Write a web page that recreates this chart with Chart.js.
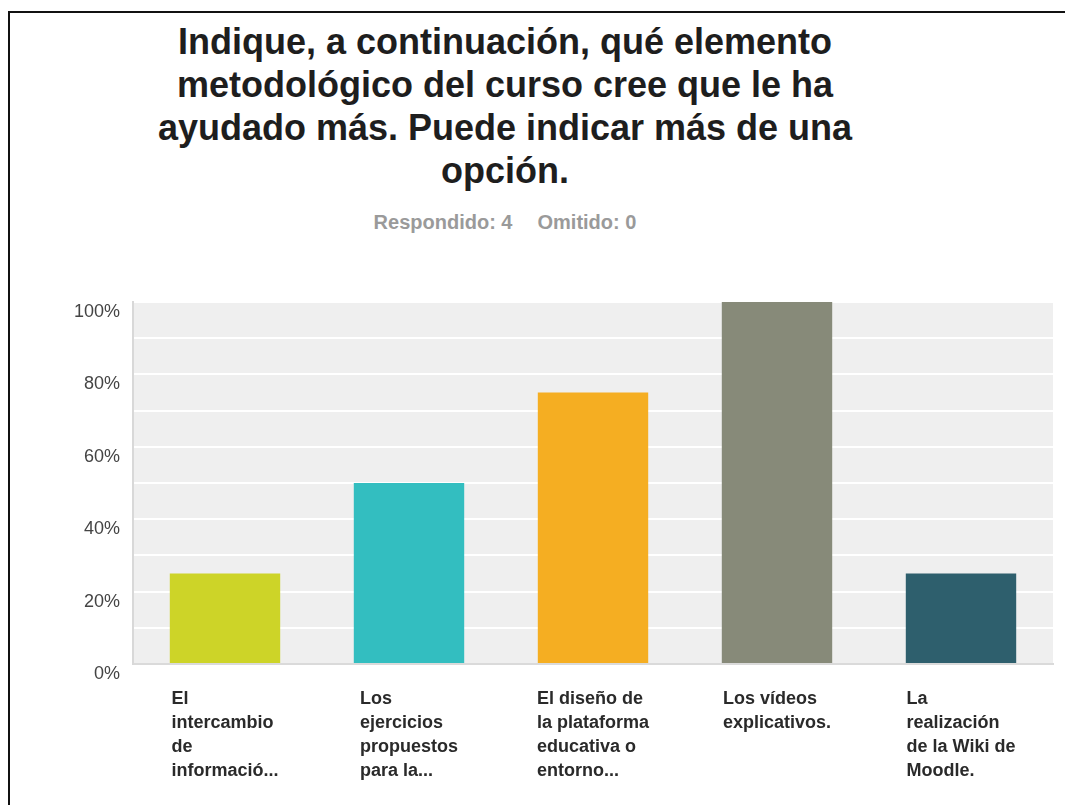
<!DOCTYPE html>
<html>
<head>
<meta charset="utf-8">
<title>Elemento metodológico</title>
<script src="https://cdn.jsdelivr.net/npm/chart.js@4/dist/chart.umd.min.js"></script>
<style>
  html, body { margin: 0; padding: 0; background: #fff; }
  body { width: 1065px; height: 805px; position: relative; overflow: hidden; font-family: "Liberation Sans", Arial, sans-serif; }
  #frame { position: absolute; left: 8px; top: 11px; width: 1200px; height: 1000px; border-left: 2px solid #111; border-top: 2px solid #111; }
  #title { position: absolute; left: 0; top: 20px; width: 1010px; text-align: center; font-weight: bold; font-size: 36px; line-height: 43px; color: #1e1e1e; }
  #resumen { position: absolute; left: 0; top: 211px; width: 1010px; text-align: center; font-weight: bold; font-size: 20px; color: #9a9a9a; }
  #resumen span { margin-left: 25px; }
  #wrap { position: absolute; left: 0; top: 0; width: 1065px; height: 805px; }
</style>
</head>
<body>
<div id="frame"></div>
<div id="title">Indique, a continuación, qué elemento<br>metodológico del curso cree que le ha<br>ayudado más. Puede indicar más de una<br>opción.</div>
<div id="resumen">Respondido: 4<span>Omitido: 0</span></div>
<div id="wrap"><canvas id="chartjs-0" width="1065" height="805"></canvas></div>

<script>
// answer options, one label line per array item
var categorias = [
    ["El", "intercambio", "de", "informació..."],
    ["Los", "ejercicios", "propuestos", "para la..."],
    ["El diseño de", "la plataforma", "educativa o", "entorno..."],
    ["Los vídeos", "explicativos."],
    ["La", "realización", "de la Wiki de", "Moodle."]
];
// share of respondents (%)
var porcentajes = [25, 50, 75, 100, 25];
var colores = ["#cdd428", "#33bec0", "#f5ae22", "#878a79", "#2e5f6d"];
var etiquetasY = ["0%", "20%", "40%", "60%", "80%", "100%"];

// grey panel behind the bars
var fondoPlugin = {
    id: "fondo",
    beforeDraw: function(chart) {
        var a = chart.chartArea;
        var c = chart.ctx;
        c.save();
        c.fillStyle = "#efefef";
        c.fillRect(a.left, a.top, a.right - a.left, a.bottom - a.top);
        c.restore();
    }
};

// category labels: left aligned text, block centred under each bar
var etiquetasXPlugin = {
    id: "etiquetasX",
    afterDraw: function(chart) {
        var c = chart.ctx;
        var x = chart.scales.x;
        c.save();
        c.font = "bold 18px 'Liberation Sans', Arial, sans-serif";
        c.fillStyle = "#2a2a2a";
        c.textAlign = "left";
        c.textBaseline = "middle";
        for (var i = 0; i < categorias.length; i++) {
            var lineas = categorias[i];
            var ancho = 0;
            for (var j = 0; j < lineas.length; j++) {
                ancho = Math.max(ancho, c.measureText(lineas[j]).width);
            }
            var x0 = x.getPixelForTick(i) - ancho / 2;
            for (var k = 0; k < lineas.length; k++) {
                c.fillText(lineas[k], x0, chart.chartArea.bottom + 35 + k * 24);
            }
        }
        c.restore();
    }
};

var ctx0 = document.getElementById("chartjs-0");
var myChart = new Chart(ctx0, {
    type: "bar",
    data: {
        labels: categorias,
        datasets: [{
            data: porcentajes,
            backgroundColor: colores,
            borderWidth: 0,
            barPercentage: 0.6,
            categoryPercentage: 1.0
        }]
    },
    options: {
        responsive: false,
        animation: false,
        layout: { padding: { top: 302, right: 12, left: 0, bottom: 0 } },
        plugins: {
            legend: { display: false },
            tooltip: { enabled: false }
        },
        scales: {
            x: {
                grid: { display: false },
                border: { color: "#dadada", width: 2 },
                ticks: { callback: function() { return ""; } },
                afterFit: function(scale) { scale.height = 141; }
            },
            y: {
                min: 0,
                max: 100,
                afterFit: function(scale) { scale.width = 133; },
                grid: { color: "#ffffff", lineWidth: 2, drawTicks: false },
                border: { color: "#d8d8d8", width: 2 },
                ticks: {
                    stepSize: 10,
                    padding: 13,
                    labelOffset: 10,
                    color: "#444",
                    font: { family: "'Liberation Sans', Arial, sans-serif", size: 18 },
                    callback: function(value) {
                        return value % 20 === 0 ? etiquetasY[value / 20] : "";
                    }
                }
            }
        }
    },
    plugins: [fondoPlugin, etiquetasXPlugin]
});
</script>
</body>
</html>
